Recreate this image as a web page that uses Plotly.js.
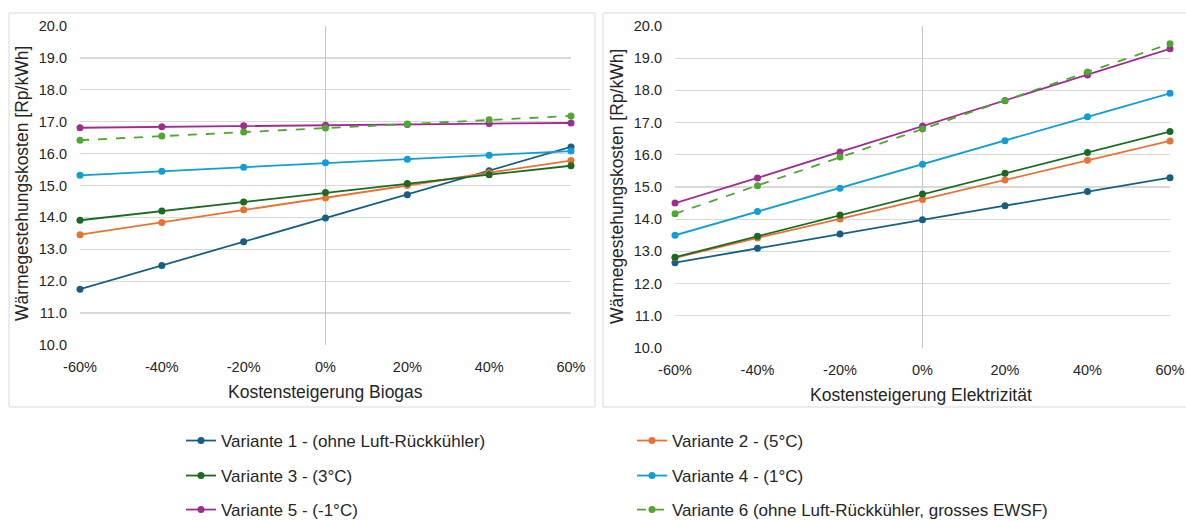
<!DOCTYPE html>
<html>
<head>
<meta charset="utf-8">
<script src="https://cdn.plot.ly/plotly-3.0.1.min.js"></script>
<style>
  html, body { margin: 0; padding: 0; background: #ffffff; }
  #chart { width: 1186px; height: 521px; }
</style>
</head>
<body>
<div id="chart"></div>
<script>
// ---- Data ----
const categories = [-60, -40, -20, 0, 20, 40, 60];
const tickLabels = ['-60%', '-40%', '-20%', '0%', '20%', '40%', '60%'];
const yTickVals = [10, 11, 12, 13, 14, 15, 16, 17, 18, 19, 20];
const yTickLabels = ['10.0', '11.0', '12.0', '13.0', '14.0', '15.0', '16.0', '17.0', '18.0', '19.0', '20.0'];

const seriesNames = [
  'Variante 1 - (ohne Luft-Rückkühler)',
  'Variante 2 - (5°C)',
  'Variante 3 - (3°C)',
  'Variante 4 - (1°C)',
  'Variante 5 - (-1°C)',
  'Variante 6 (ohne Luft-Rückkühler, grosses EWSF)'
];

// Left chart: Kostensteigerung Biogas
const biogasV1 = [11.75, 12.49, 13.24, 13.98, 14.71, 15.46, 16.21];
const biogasV2 = [13.46, 13.84, 14.24, 14.61, 15.00, 15.40, 15.78];
const biogasV3 = [13.91, 14.20, 14.48, 14.78, 15.06, 15.34, 15.62];
const biogasV4 = [15.32, 15.45, 15.57, 15.71, 15.82, 15.95, 16.08];
const biogasV5 = [16.81, 16.84, 16.87, 16.89, 16.91, 16.94, 16.96];
const biogasV6 = [16.42, 16.55, 16.68, 16.80, 16.93, 17.06, 17.18];

// Right chart: Kostensteigerung Elektrizität
const elekV1 = [12.65, 13.10, 13.54, 13.98, 14.42, 14.86, 15.29];
const elekV2 = [12.80, 13.42, 14.01, 14.61, 15.22, 15.83, 16.43];
const elekV3 = [12.82, 13.47, 14.13, 14.78, 15.43, 16.07, 16.72];
const elekV4 = [13.50, 14.24, 14.96, 15.71, 16.44, 17.18, 17.91];
const elekV5 = [14.50, 15.28, 16.09, 16.89, 17.68, 18.48, 19.29];
const elekV6 = [14.17, 15.04, 15.93, 16.80, 17.69, 18.57, 19.45];

// ---- Styles ----
const colors = ['#156082', '#E97132', '#196B24', '#0F9ED5', '#A02B93', '#4EA72E'];
const dashes = ['solid', 'solid', 'solid', 'solid', 'solid', 'dash'];
const legendIds = ['legend', 'legend', 'legend2', 'legend2', 'legend3', 'legend3'];
const biogasSeries = [biogasV1, biogasV2, biogasV3, biogasV4, biogasV5, biogasV6];
const elekSeries = [elekV1, elekV2, elekV3, elekV4, elekV5, elekV6];

const W = 1186, H = 521;
const px = v => v / W;
const py = v => 1 - v / H;

const FONT = '"Liberation Sans", Arial, sans-serif';
const TXT = '#262626';

const traces = [];
biogasSeries.forEach((vals, i) => {
  traces.push({
    type: 'scatter', mode: 'lines+markers',
    x: categories, y: vals, name: seriesNames[i],
    xaxis: 'x', yaxis: 'y',
    legend: legendIds[i], legendgroup: 'g' + i, showlegend: true,
    line: { color: colors[i], width: 1.8, dash: dashes[i] },
    marker: { color: colors[i], size: 7 },
    cliponaxis: false, hoverinfo: 'skip'
  });
});
elekSeries.forEach((vals, i) => {
  traces.push({
    type: 'scatter', mode: 'lines+markers',
    x: categories, y: vals, name: seriesNames[i],
    xaxis: 'x2', yaxis: 'y2',
    legend: legendIds[i], legendgroup: 'g' + i, showlegend: false,
    line: { color: colors[i], width: 1.8, dash: dashes[i] },
    marker: { color: colors[i], size: 7 },
    cliponaxis: false, hoverinfo: 'skip'
  });
});

function xAxis(domain, anchor) {
  return {
    domain: domain, anchor: anchor, range: [-60, 60],
    tickmode: 'array', tickvals: categories, ticktext: tickLabels,
    showgrid: false, zeroline: true, zerolinecolor: '#c6c6c6', zerolinewidth: 1,
    showline: false, ticks: '', ticklabelstandoff: 11,
    tickfont: { family: FONT, size: 14.5, color: TXT }, fixedrange: true
  };
}
function yAxis(domain, anchor) {
  return {
    domain: domain, anchor: anchor, range: [10, 20],
    tickmode: 'array', tickvals: yTickVals, ticktext: yTickLabels,
    showgrid: true, gridcolor: '#d9d9d9', gridwidth: 1.3,
    zeroline: false, showline: false, ticks: '', ticklabelstandoff: 12,
    tickfont: { family: FONT, size: 14.5, color: TXT }, fixedrange: true
  };
}

const legendBase = {
  orientation: 'h', xanchor: 'left', yanchor: 'middle',
  x: px(181), entrywidth: 406, entrywidthmode: 'pixels',
  font: { family: FONT, size: 17, color: TXT },
  bgcolor: 'rgba(0,0,0,0)', borderwidth: 0, traceorder: 'normal'
};

const layout = {
  width: W, height: H,
  margin: { l: 0, r: 0, t: 0, b: 0, autoexpand: false },
  paper_bgcolor: '#ffffff', plot_bgcolor: '#ffffff',
  showlegend: true,
  xaxis: xAxis([px(80), px(571)], 'y'),
  yaxis: yAxis([py(345), py(26)], 'x'),
  xaxis2: xAxis([px(675), px(1170)], 'y2'),
  yaxis2: yAxis([py(348), py(26)], 'x2'),
  legend: Object.assign({}, legendBase, { y: py(441) }),
  legend2: Object.assign({}, legendBase, { y: py(476) }),
  legend3: Object.assign({}, legendBase, { y: py(510) }),
  shapes: [
    { type: 'rect', xref: 'paper', yref: 'paper', x0: px(9), x1: px(595), y0: py(407), y1: py(13),
      line: { color: '#d9d9d9', width: 1 }, fillcolor: 'rgba(0,0,0,0)', layer: 'below' },
    { type: 'rect', xref: 'paper', yref: 'paper', x0: px(603), x1: px(1190), y0: py(407), y1: py(13),
      line: { color: '#d9d9d9', width: 1 }, fillcolor: 'rgba(0,0,0,0)', layer: 'below' }
  ],
  annotations: [
    { text: 'Wärmegestehungskosten [Rp/kWh]', xref: 'paper', yref: 'paper',
      x: px(22), y: py(184), xanchor: 'center', yanchor: 'middle', textangle: -90, showarrow: false,
      font: { family: FONT, size: 17.5, color: TXT } },
    { text: 'Wärmegestehungskosten [Rp/kWh]', xref: 'paper', yref: 'paper',
      x: px(617), y: py(187), xanchor: 'center', yanchor: 'middle', textangle: -90, showarrow: false,
      font: { family: FONT, size: 17.5, color: TXT } },
    { text: 'Kostensteigerung Biogas', xref: 'paper', yref: 'paper',
      x: px(325), y: py(392), xanchor: 'center', yanchor: 'middle', showarrow: false,
      font: { family: FONT, size: 17.5, color: TXT } },
    { text: 'Kostensteigerung Elektrizität', xref: 'paper', yref: 'paper',
      x: px(921), y: py(395), xanchor: 'center', yanchor: 'middle', showarrow: false,
      font: { family: FONT, size: 17.5, color: TXT } }
  ]
};

Plotly.newPlot('chart', traces, layout, { staticPlot: true, displayModeBar: false });
</script>
</body>
</html>
